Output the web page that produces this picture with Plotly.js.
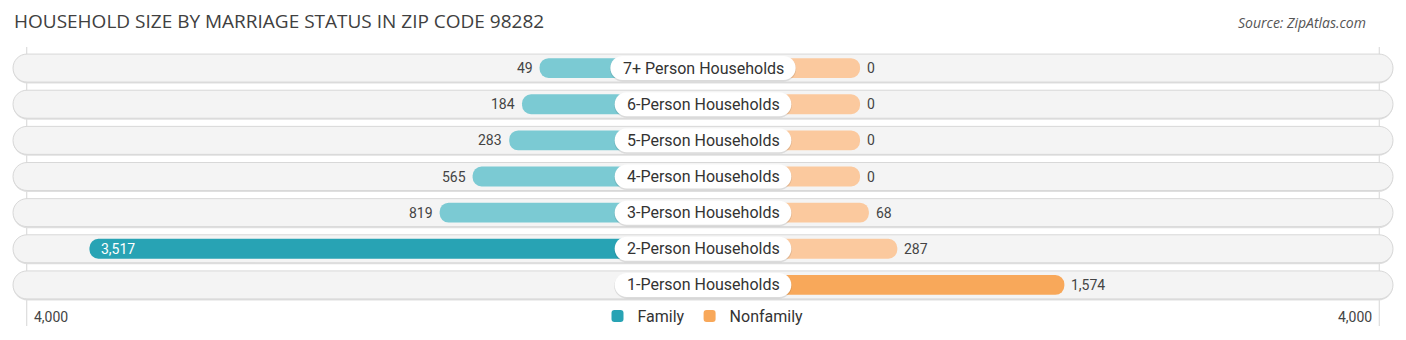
<!DOCTYPE html>
<html><head><meta charset="utf-8">
<script src="https://cdn.plot.ly/plotly-3.0.1.min.js"></script>
<style>html,body{margin:0;padding:0;background:#fff}#chart{width:1406px;height:340px}</style>
</head><body><div id="chart"></div>
<script>
// ---- data (bottom row first) ----
const categories = ["1-Person Households","2-Person Households","3-Person Households","4-Person Households","5-Person Households","6-Person Households","7+ Person Households"];
const familyValues = [null, 3517, 819, 565, 283, 184, 49];
const nonfamilyValues = [1574, 287, 68, 0, 0, 0, 0];
const seriesNames = ["Family", "Nonfamily"];
const axisMax = 4000;
const axisTickLabel = "4,000";
const titleText = "HOUSEHOLD SIZE BY MARRIAGE STATUS IN ZIP CODE 98282";
const sourceText = "Source: ZipAtlas.com";

// ---- styling ----
const W = 1406, H = 340;
const GAP = 1210;              // half-width of the centre label area, in value units
const XR = 5416;
const famDark = "#28a3b4", famLight = "#7bcad3";
const nonDark = "#f8a85a", nonLight = "#fbc99e";
const labelFont = "Roboto";
const fmt = v => v.toLocaleString("en-US");
const rows = categories.map((c, i) => i);
const famMax = Math.max(...familyValues.filter(v => v != null));
const nonMax = Math.max(...nonfamilyValues);

const plotTop = 50, plotBottom = 303;
const py = p => (plotBottom - p) / (plotBottom - plotTop); // pixel y -> paper y

function measure(text, font) {
  const c = document.createElement("canvas").getContext("2d");
  c.font = font; return c.measureText(text).width;
}
function roundRect(hw, hh, r) {
  const k = 0.5523 * r;
  const x0 = -hw, x1 = hw, y0 = -hh, y1 = hh;
  return `M ${x0 + r},${y0} L ${x1 - r},${y0} ` +
    `C ${x1 - r + k},${y0} ${x1},${y0 + r - k} ${x1},${y0 + r} ` +
    `L ${x1},${y1 - r} C ${x1},${y1 - r + k} ${x1 - r + k},${y1} ${x1 - r},${y1} ` +
    `L ${x0 + r},${y1} C ${x0 + r - k},${y1} ${x0},${y1 - r + k} ${x0},${y1 - r} ` +
    `L ${x0},${y0 + r} C ${x0},${y0 + r - k} ${x0 + r - k},${y0} ${x0 + r},${y0} Z`;
}
function shiftPath(hw, hh, r, dy) {
  return roundRect(hw, hh, r).replace(/(-?[\d.]+),(-?[\d.]+)/g, (m, a, b) => `${a},${(+b + dy).toFixed(2)}`);
}

const traces = [
  {
    type: "bar", orientation: "h", name: seriesNames[0],
    y: rows, x: familyValues.map(v => v == null ? null : -(v + GAP)), base: 0,
    width: 0.55,
    marker: { color: familyValues.map(v => (v == null || v === famMax) ? famDark : famLight), cornerradius: 10 },
    hoverinfo: "skip"
  },
  {
    type: "bar", orientation: "h", name: seriesNames[1],
    y: rows, x: nonfamilyValues.map(v => v + GAP), base: 0,
    width: 0.55,
    marker: { color: nonfamilyValues.map(v => v === nonMax ? nonDark : nonLight), cornerradius: 10 },
    hoverinfo: "skip"
  }
];

const shapes = [];
const annotations = [];

// background pills
rows.forEach(i => {
  shapes.push({ type: "path", layer: "below", xref: "x", yref: "y", xsizemode: "pixel", ysizemode: "pixel",
    xanchor: 0, yanchor: i, path: shiftPath(690, 14.5, 14.5, -1), fillcolor: "#dfdfdf", line: { width: 0 } });
  shapes.push({ type: "path", layer: "below", xref: "x", yref: "y", xsizemode: "pixel", ysizemode: "pixel",
    xanchor: 0, yanchor: i, path: roundRect(690, 14, 14), fillcolor: "#f4f4f4", line: { color: "#d8d8d8", width: 1 } });
});
// vertical reference lines at +-4000
[-1, 1].forEach(s => {
  shapes.push({ type: "line", layer: "below", xref: "x", yref: "paper", x0: s * (GAP + axisMax), x1: s * (GAP + axisMax),
    y0: py(326), y1: py(47), line: { color: "#d6d6d6", width: 1 } });
});
// centre label boxes
const lf = `16px ${labelFont}`;
categories.forEach((c, i) => {
  const hw = measure(c, lf) / 2 + 12;
  shapes.push({ type: "path", layer: "above", xref: "x", yref: "y", xsizemode: "pixel", ysizemode: "pixel",
    xanchor: 0, yanchor: i, path: shiftPath(hw + 0.5, 12.5, 12.5, -1), fillcolor: "rgba(0,0,0,0.10)", line: { width: 0 } });
  shapes.push({ type: "path", layer: "above", xref: "x", yref: "y", xsizemode: "pixel", ysizemode: "pixel",
    xanchor: 0, yanchor: i, path: roundRect(hw, 12, 12), fillcolor: "#ffffff", line: { width: 0 } });
  annotations.push({ x: 0, y: i, xref: "x", yref: "y", text: c, showarrow: false,
    font: { family: labelFont, size: 16, color: "#333333" }, xanchor: "center", yanchor: "middle" });
});
// value labels
familyValues.forEach((v, i) => {
  if (v == null) return;
  const inside = v / axisMax > 0.75;
  annotations.push({ x: -(v + GAP), y: i, xref: "x", yref: "y", text: fmt(v), showarrow: false,
    xanchor: inside ? "left" : "right", xshift: inside ? 10 : -5, yanchor: "middle",
    font: { family: labelFont, size: 14, color: inside ? "#ffffff" : "#444444" } });
});
nonfamilyValues.forEach((v, i) => {
  if (v == null) return;
  const inside = v / axisMax > 0.75;
  annotations.push({ x: v + GAP, y: i, xref: "x", yref: "y", text: fmt(v), showarrow: false,
    xanchor: inside ? "right" : "left", xshift: inside ? -10 : 5, yanchor: "middle",
    font: { family: labelFont, size: 14, color: inside ? "#ffffff" : "#444444" } });
});
// axis end labels
annotations.push({ x: -(GAP + axisMax), y: py(317), xref: "x", yref: "paper", text: axisTickLabel, showarrow: false,
  xanchor: "left", xshift: 5, yanchor: "middle", font: { family: labelFont, size: 14, color: "#444444" } });
annotations.push({ x: (GAP + axisMax), y: py(317), xref: "x", yref: "paper", text: axisTickLabel, showarrow: false,
  xanchor: "right", xshift: -5, yanchor: "middle", font: { family: labelFont, size: 14, color: "#444444" } });
// title & source
annotations.push({ x: 12 / W, y: py(21), xref: "paper", yref: "paper", text: titleText, showarrow: false,
  xanchor: "left", yanchor: "middle", font: { family: "Open Sans", size: 19, color: "#404040" } });
annotations.push({ x: 1368 / W, y: py(23), xref: "paper", yref: "paper", text: `<i>${sourceText}</i>`, showarrow: false,
  xanchor: "right", yanchor: "middle", font: { family: "Open Sans", size: 14, color: "#555555" } });

const layout = {
  width: W, height: H,
  margin: { l: 0, r: 0, t: plotTop, b: H - plotBottom, pad: 0 },
  paper_bgcolor: "#ffffff", plot_bgcolor: "rgba(0,0,0,0)",
  barmode: "overlay",
  xaxis: { range: [-XR, XR], showgrid: false, zeroline: false, showticklabels: false, fixedrange: true },
  yaxis: { range: [-0.5, categories.length - 0.5], showgrid: false, zeroline: false, showticklabels: false, fixedrange: true },
  showlegend: true,
  legend: { orientation: "h", x: 0.5, xanchor: "center", y: py(316), yanchor: "middle",
    font: { family: labelFont, size: 16, color: "#333333" }, itemwidth: 30, traceorder: "normal", bgcolor: "rgba(0,0,0,0)" },
  shapes, annotations
};

Plotly.newPlot("chart", traces, layout, { displayModeBar: false, staticPlot: true });
</script>
</body></html>
